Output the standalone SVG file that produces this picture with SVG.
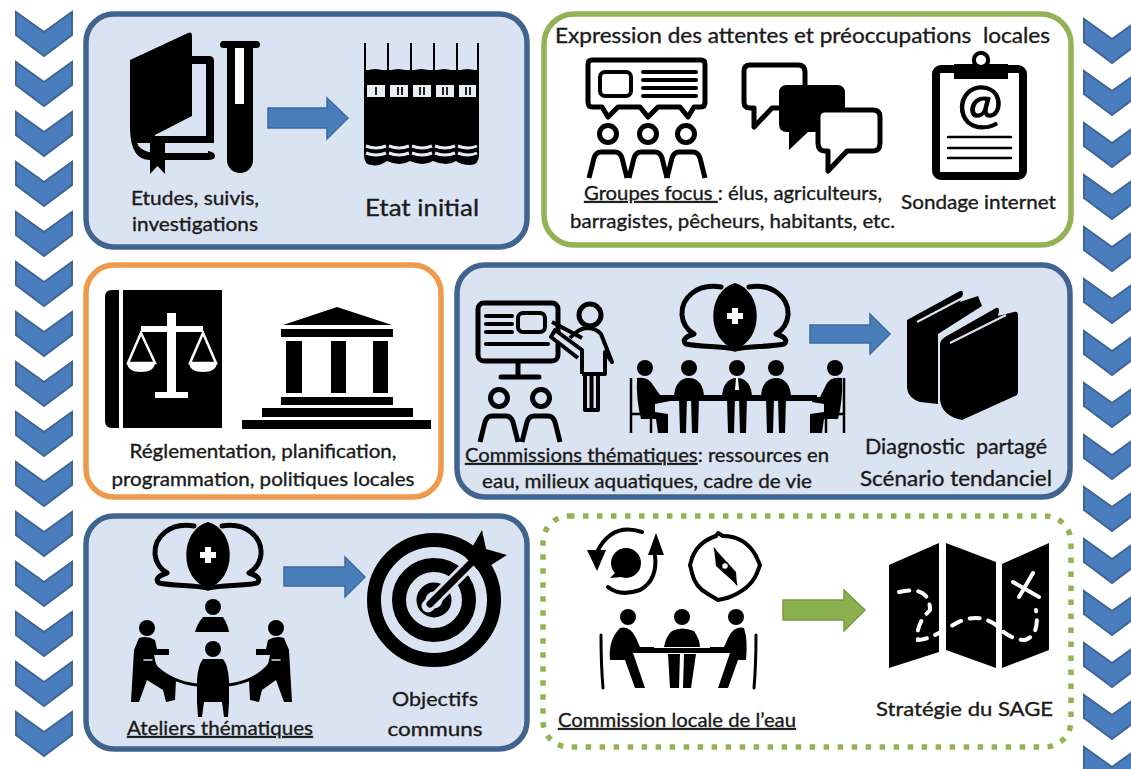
<svg xmlns="http://www.w3.org/2000/svg" xmlns:xlink="http://www.w3.org/1999/xlink" width="1131" height="769" viewBox="0 0 1131 769">
<style>
text{font-family:"Lato","Open Sans","Liberation Sans",sans-serif;fill:#1a1a1a;stroke:#1a1a1a;stroke-width:.35px;font-size:19px;white-space:pre}
.m{text-anchor:middle}
.u{text-decoration:underline}
.box{stroke-width:5.5}
.blue{fill:#dae3f1;stroke:#41648f}
.green{fill:#fff;stroke:#93b255}
.orange{fill:#fff;stroke:#ee9a4c}
.dots{fill:#fff;stroke:#93b255;stroke-width:5.5;stroke-dasharray:5.500 8.500}
.chev{fill:#4a7dbd;stroke:#3f6595;stroke-width:2;stroke-linejoin:miter}
.arr{fill:#4a7ebb;stroke:#3b6a9e;stroke-width:1.5}
.arrg{fill:#8cb04f;stroke:#799a42;stroke-width:1.5}
.k{fill:#000}
.o{fill:none;stroke:#000;stroke-width:5;stroke-linejoin:round;stroke-linecap:round}
.w{fill:#fff}
.bg{fill:#dae3f1}
</style>
<defs>
<path id="chev" class="chev" d="M0,0 L28,20 L56,0 L56,23 L28,44 L0,23 Z"/>
<g id="collab">
<path class="k" d="M0,-33 C-29,-25 -29,25 0,33 C29,25 29,-25 0,-33 Z"/>
<path class="w" d="M-3,-8 H3 V-3 H8 V3 H3 V8 H-3 V3 H-8 V-3 H-3 Z"/>
<path class="o" d="M-14,-29 C-38,-33 -54,-18 -53,-1 C-52,10 -46,15 -41,18 C-48,20 -54,24 -49,28 C-35,31 -15,30 0,33"/>
<path class="o" d="M14,-29 C38,-33 54,-18 53,-1 C52,10 46,15 41,18 C48,20 54,24 49,28 C35,31 15,30 0,33"/>
</g>
<g id="front">
<circle class="k" cx="0" cy="-27" r="8"/>
<path class="k" d="M-15,3 C-15,-10 -9,-17 0,-17 C9,-17 15,-10 15,3 Z"/>
<path class="k" d="M-10,3 H-2 L-3,38 H-9 Z M2,3 H10 L9,38 H3 Z"/>
</g>
<g id="bubblehead">
<circle class="o" cx="0" cy="0" r="8.5"/>
<path class="o" d="M-19,44 L-14,24 Q-12,18 -7,18 H7 Q12,18 14,24 L19,44" style="stroke-linecap:butt"/>
</g>
</defs>

<g id="chevrons-left">
<use href="#chev" x="16" y="12"/><use href="#chev" x="16" y="62"/><use href="#chev" x="16" y="112"/><use href="#chev" x="16" y="162"/><use href="#chev" x="16" y="212"/><use href="#chev" x="16" y="262"/><use href="#chev" x="16" y="312"/><use href="#chev" x="16" y="362"/><use href="#chev" x="16" y="412"/><use href="#chev" x="16" y="462"/><use href="#chev" x="16" y="512"/><use href="#chev" x="16" y="562"/><use href="#chev" x="16" y="612"/><use href="#chev" x="16" y="662"/><use href="#chev" x="16" y="712"/>
</g>
<g id="chevrons-right">
<use href="#chev" x="1084" y="19"/><use href="#chev" x="1084" y="71"/><use href="#chev" x="1084" y="123"/><use href="#chev" x="1084" y="175"/><use href="#chev" x="1084" y="227"/><use href="#chev" x="1084" y="279"/><use href="#chev" x="1084" y="331"/><use href="#chev" x="1084" y="383"/><use href="#chev" x="1084" y="435"/><use href="#chev" x="1084" y="487"/><use href="#chev" x="1084" y="539"/><use href="#chev" x="1084" y="591"/><use href="#chev" x="1084" y="643"/><use href="#chev" x="1084" y="695"/><use href="#chev" x="1084" y="747"/>
</g>

<g id="etat-initial">
<rect class="box blue" x="86" y="14" width="441" height="233" rx="28"/>
<path class="k" d="M130,60 L188,33 Q192,31 192,36 V116 L155,135 V143 H150 Q133,140 130,125 Z"/>
<path class="k" d="M192,56 H209 Q214,56 214,61 V143 H198 V137 H206 V64 H192 Z"/>
<path class="k" d="M130,130 Q131,160 150,160 H208 Q215,160 215,156 Q215,152 208,151 V153 H152 Q139,150 137,143 H214 V136 H155 L130,125 Z"/>
<path class="k" d="M150,143 H165 V174 L157.500,166 L150,174 Z"/>
<rect class="k" x="220" y="41" width="40" height="7" rx="3.500"/>
<path class="k" d="M227,47 H253 V160 A13,13 0 0 1 227,160 Z"/>
<rect class="w" x="235" y="48" width="9" height="56"/>
<g id="books-row">
<path class="k" d="M364,72 V43 H366 V70 H387 V43 H389 V70 H410 V43 H412 V70 H433 V43 H435 V70 H456 V43 H458 V70 H477 V43 H479 V155 Q479,165 470,165 Q461,165 456,161 Q447,167 433,161 Q423,167 410,161 Q400,167 387,161 Q378,167 372,165 Q364,165 364,155 Z"/>
<path class="k" d="M364,72 Q375,66 387,72 Q398,66 410,72 Q421,66 433,72 Q444,66 456,72 Q467,66 479,72 V76 H364 Z"/>
<path d="M367,85 H385 V97 H367 Z M390,85 H408 V97 H390 Z M413,85 H431 V97 H413 Z M436,85 H454 V97 H436 Z M459,85 H476 V97 H459 Z" fill="#e9edf3"/>
<g fill="none" stroke="#e9edf3" stroke-width="3"><path d="M366,146 Q376,150 386,146 M389,146 Q399,150 409,146 M412,146 Q422,150 432,146 M435,146 Q445,150 455,146 M458,146 Q468,150 477,146"/><path d="M366,153 Q376,157 386,153 M389,153 Q399,157 409,153 M412,153 Q422,157 432,153 M435,153 Q445,157 455,153 M458,153 Q468,157 477,153"/></g>
<g stroke="#222" stroke-width="2"><path d="M376,87 V95 M398,87 V95 M402,87 V95 M420,87 V95 M424,87 V95 M443,87 V95 M447,87 V95 M466,87 V95 M470,87 V95"/></g>
</g>
<text class="m" x="195" y="205" textLength="128" lengthAdjust="spacingAndGlyphs">Etudes, suivis,</text>
<text class="m" x="195" y="231" textLength="126" lengthAdjust="spacingAndGlyphs">investigations</text>
<text class="m" x="422" y="216" style="font-size:24px" textLength="114" lengthAdjust="spacingAndGlyphs">Etat initial</text>
</g>

<g id="attentes">
<rect class="box green" x="544" y="14" width="527" height="231" rx="30"/>
<text x="555" y="43" style="font-size:21px" textLength="495" lengthAdjust="spacingAndGlyphs">Expression des attentes et préoccupations  locales</text>
<path class="o" d="M592,60 H701 Q705,60 705,64 V102 Q705,107 701,107 H694 L688,117 L680,107 H658 L648,117 L640,107 H618 L608,117 L602,107 H592 Q588,107 588,102 V64 Q588,60 592,60 Z"/>
<rect class="o" x="600" y="72" width="31" height="24" rx="5" style="stroke-width:4"/>
<path class="o" d="M643,72 H696 M643,80 H696 M643,88 H696 M643,96 H696" style="stroke-width:4"/>
<use href="#bubblehead" x="608" y="134"/><use href="#bubblehead" x="648" y="134"/><use href="#bubblehead" x="686" y="134"/>
<path class="o" d="M750,65 H798 Q805,65 805,72 V85 M780,108 L772,108 L754,127 V108 H750 Q744,108 744,102 V71 Q744,65 750,65" />
<path class="k" d="M787,85 H837 Q845,85 845,93 V124 Q845,132 837,132 H808 L789,150 V132 H787 Q779,132 779,124 V93 Q779,85 787,85 Z"/>
<path fill="#fff" stroke="#000" stroke-width="5" stroke-linejoin="round" d="M825,110 H873 Q880,110 880,117 V143 Q880,151 873,151 H847 L828,171 V151 H825 Q818,151 818,143 V117 Q818,110 825,110 Z"/>
<rect class="o" x="936" y="69" width="87" height="107" rx="5" style="stroke-width:8"/>
<circle class="o" cx="981" cy="60" r="7" style="stroke-width:4.500"/>
<rect class="k" x="954" y="64" width="54" height="15"/>
<circle class="w" cx="981" cy="60" r="5"/>
<text class="m" x="980" y="123" style="font-size:54px;fill:#000;stroke:#000;stroke-width:1px">@</text>
<path class="o" d="M948,137 H1011 M948,148 H1011 M948,158 H1011" style="stroke-width:2.500"/>
<text x="584" y="200" textLength="298" lengthAdjust="spacingAndGlyphs"><tspan class="u">Groupes focus </tspan>: élus, agriculteurs,</text>
<text x="570" y="228" textLength="325" lengthAdjust="spacingAndGlyphs">barragistes, pêcheurs, habitants, etc.</text>
<text x="901" y="209" textLength="155" lengthAdjust="spacingAndGlyphs">Sondage internet</text>
</g>

<g id="reglementation">
<rect class="box orange" x="86" y="265" width="355" height="232" rx="28"/>
<path class="k" d="M112,290 H119 V428 H112 Q105,428 105,421 V297 Q105,290 112,290 Z"/>
<rect class="k" x="123" y="290" width="99" height="138"/>
<rect class="w" x="167" y="313" width="9" height="85"/>
<rect class="w" x="155" y="392" width="33" height="6"/>
<rect class="w" x="141" y="326" width="62" height="6"/>
<path fill="none" stroke="#fff" stroke-width="2.500" d="M141,333 L128,363 H155 Z M203,333 L190,363 H216 Z"/>
<path class="w" d="M127,363 H155 Q154,372 141,372 Q128,372 127,363 Z M189,363 H217 Q216,372 203,372 Q190,372 189,363 Z"/>
<path class="k" d="M337,307 L392,325 H283 Z"/>
<rect class="k" x="281" y="329" width="112" height="8"/>
<rect class="k" x="286" y="341" width="16" height="52"/><rect class="k" x="331" y="341" width="15" height="52"/><rect class="k" x="373" y="341" width="15" height="52"/>
<rect class="k" x="281" y="397" width="112" height="8"/>
<rect class="k" x="262" y="408" width="151" height="9"/>
<rect class="k" x="242" y="420" width="189" height="9"/>
<text class="m" x="263" y="458" textLength="267" lengthAdjust="spacingAndGlyphs">Réglementation, planification,</text>
<text class="m" x="263" y="486" textLength="303" lengthAdjust="spacingAndGlyphs">programmation, politiques locales</text>
</g>

<g id="diagnostic">
<rect class="box blue" x="457" y="265" width="613" height="232" rx="28"/>
<rect class="o" x="478" y="303" width="80" height="58" rx="6"/>
<path class="o" d="M486,316 H512 M486,324 H512 M486,332 H512 M486,344 H548" style="stroke-width:4"/>
<rect class="o" x="518" y="313" width="27" height="19" rx="5" style="stroke-width:4"/>
<path class="o" d="M518,362 V377 M501,377 H539"/>
<use href="#bubblehead" x="499" y="398"/><use href="#bubblehead" x="541" y="398"/>
<circle class="o" cx="590" cy="315" r="11"/>
<path fill="#dae3f1" stroke="#000" stroke-width="4" stroke-linejoin="round" d="M582,374 V350 L555,330 L551,337 L578,358 M582,338 L552,322 M582,374 H605 V352 L612,362 L601,334 Q596,328 586,328 Q578,329 570,338"/>
<path class="o" d="M585,374 V410 H598 V374 M591.500,374 V410" style="stroke-width:4"/>
<use href="#collab" x="735" y="316"/>
<rect class="k" x="668" y="395" width="149" height="6"/>
<use href="#front" x="689" y="395"/><use href="#front" x="737" y="395"/><use href="#front" x="776" y="395"/>
<path class="w" d="M736,378 H738 L739,390 H735 Z"/>
<circle class="k" cx="645" cy="368" r="8"/>
<path class="k" d="M637,378 Q648,376 653,385 L660,395 H670 V401 L655,404 V412 L668,414 L668,433 H658 L656,419 H641 Q636,400 637,378 Z"/>
<circle class="k" cx="835" cy="368" r="8"/>
<path class="k" d="M842,378 Q830,376 826,385 L820,397 H812 V402 L824,404 V412 L810,414 V433 H822 L824,419 H838 Q843,400 842,378 Z"/>
<path class="o" d="M631,378 V433 M631,414 H651 V433" style="stroke-width:2.500;stroke-linecap:butt"/>
<path class="o" d="M844,378 V433 M844,414 H826 V433" style="stroke-width:2.500;stroke-linecap:butt"/>
<path class="k" d="M907,320 L960,291 Q963,290 963,294 L960,302 L978,296 L982,306 L938,334 V404 L920,402 Q908,398 907,388 Z"/>
<path fill="none" stroke="#dae3f1" stroke-width="2" d="M917,322 L972,293"/>
<path class="k" stroke="#dae3f1" stroke-width="3.500" stroke-linejoin="round" style="paint-order:stroke" d="M940,345 Q940,340 945,337 L996,308 Q999,307 999,311 L998,316 L1014,312 Q1018,311 1018,315 V392 Q1018,395 1015,396 L962,420 Q942,416 940,400 Z"/>
<path fill="none" stroke="#dae3f1" stroke-width="2" d="M950,343 L1006,315"/>
<text x="465" y="462" textLength="364" lengthAdjust="spacingAndGlyphs"><tspan class="u">Commissions thématiques</tspan>: ressources en</text>
<text class="m" x="647" y="488" textLength="330" lengthAdjust="spacingAndGlyphs">eau, milieux aquatiques, cadre de vie</text>
<text class="m" x="956" y="454" style="font-size:21px" textLength="182" lengthAdjust="spacingAndGlyphs">Diagnostic  partagé</text>
<text class="m" x="956" y="486" style="font-size:21px" textLength="192" lengthAdjust="spacingAndGlyphs">Scénario tendanciel</text>
</g>

<g id="ateliers">
<rect class="box blue" x="86" y="516" width="441" height="233" rx="28"/>
<use href="#collab" x="208" y="555"/>
<circle class="k" cx="213" cy="607" r="8"/>
<path class="k" d="M203,617 H223 Q228,625 229,632 H195 Q197,624 203,617 Z"/>
<circle class="k" cx="147" cy="628" r="8"/>
<path class="k" d="M139,638 Q147,635 155,640 L157,649 H169 V655 H154 Q156,670 165,675 L176,680 L175,700 L166,702 L163,690 L147,680 L139,702 L131,702 L134,650 Z"/>
<circle class="k" cx="276" cy="628" r="8"/>
<path class="k" d="M284,638 Q276,635 268,640 L266,649 H256 V655 H270 Q268,670 260,675 L249,680 L250,700 L259,702 L262,690 L276,680 L284,702 L292,702 L289,650 Z"/>
<path class="o" d="M153,664 Q170,682 197,685 M228,685 Q255,682 270,664" style="stroke-width:3"/>
<circle class="k" cx="213" cy="649" r="8"/>
<path class="k" d="M203,659 H223 Q228,665 229,680 V702 L228,717 H224 L222,702 H204 L202,717 H198 L197,702 V680 Q198,665 203,659 Z"/>
<path class="o" d="M144,660 H152 M272,660 H280" style="stroke:#dae3f1;stroke-width:1.500"/>
<g fill="none" stroke-linecap="round">
<circle cx="434" cy="600" r="60" stroke="#000" stroke-width="14"/>
<circle cx="434" cy="600" r="35" stroke="#000" stroke-width="14"/>
<circle cx="434" cy="600" r="13" stroke="#000" stroke-width="9"/>
<path d="M428,606 L478,556" stroke="#dae3f1" stroke-width="13"/>
<path d="M430,604 L480,554" stroke="#000" stroke-width="7"/>
</g>
<path class="k" d="M466,558 L482,530 L486,549 L507,555 L480,572 Z"/>
<text class="m" x="435" y="706" style="font-size:20px" textLength="86" lengthAdjust="spacingAndGlyphs">Objectifs</text>
<text class="m" x="435" y="736" style="font-size:20px" textLength="95" lengthAdjust="spacingAndGlyphs">communs</text>
<text x="127" y="735" class="u" textLength="186" lengthAdjust="spacingAndGlyphs">Ateliers thématiques</text>
</g>

<g id="strategie">
<rect class="dots" x="543" y="516" width="528" height="231" rx="26"/>
<circle class="k" cx="626" cy="563" r="15"/>
<path class="k" d="M616,572 L610,578 L622,577 Z"/>
<path class="o" d="M642,532 Q612,522 597,552 M655,555 Q658,580 640,590 Q620,597 608,587" style="stroke-width:4"/>
<path class="k" d="M587,550 H606 L597,571 Z M648,555 H664 L656,533 Z"/>
<g class="o" style="stroke-width:4" fill="none">
<path d="M723,536 Q745,536 756,556 M757,573 Q750,590 727,598 M708,594 Q695,587 692,573 M692,558 Q698,542 716,536"/>
<path d="M756,556 L760,565 L757,573 M723,536 L718,533 L716,536 M727,598 L718,600 L708,594 M692,573 L690,565 L692,558"/>
</g>
<path class="k" d="M714,548 L736,572 L737,585 L716,566 Z"/>
<path fill="none" stroke="#000" stroke-width="1.500" d="M714,548 L737,585"/>
<circle cx="725" cy="566" r="3.500" fill="#fff" stroke="#000" stroke-width="1.500"/>
<circle class="k" cx="628" cy="617" r="8"/>
<circle class="k" cx="682" cy="617" r="8"/>
<circle class="k" cx="736" cy="617" r="8"/>
<path class="k" d="M620,628 Q630,625 636,638 L640,647 H654 V650 L633,653 L645,688 L635,688 L625,660 H610 Q608,640 620,628 Z"/>
<path class="k" d="M744,628 Q734,625 728,638 L724,647 H710 V650 L730,653 L718,688 L728,688 L738,660 H746 Q748,640 744,628 Z"/>
<path class="k" d="M672,631 Q682,626 694,631 Q700,640 700,647 H664 Q666,636 672,631 Z"/>
<path class="k" d="M668,654 H680 L679,688 H670 Z M684,654 H696 L691,688 H683 Z"/>
<rect class="k" x="628" y="648" width="103" height="5" />
<path class="o" d="M601,635 Q601,665 603,688 M756,635 Q756,665 754,688" style="stroke-width:3"/>
<path class="k" d="M889,565 L939,543 V652 L889,668 Z"/>
<path class="k" d="M946,543 L996,562 V668 L946,650 Z"/>
<path class="k" d="M1002,564 L1049,543 V650 L1002,668 Z"/>
<path fill="none" stroke="#fff" stroke-width="4" stroke-linecap="round" stroke-dasharray="10 9" d="M899,592 Q930,585 930,610 Q915,625 918,640 Q928,640 950,627 Q975,610 996,625 Q1010,640 1025,640 Q1040,635 1036,610"/>
<path fill="none" stroke="#fff" stroke-width="4" stroke-linecap="round" d="M1013,582 L1039,597 M1033,573 L1019,597"/>
<text x="876" y="716" style="font-size:20px" textLength="177" lengthAdjust="spacingAndGlyphs">Stratégie du SAGE</text>
<text x="558" y="727" class="u" textLength="238" lengthAdjust="spacingAndGlyphs">Commission locale de l’eau</text>
</g>

<g id="connectors">
<path class="arr" d="M268,108 H327 V98 L348,118 L327,139 V128 H268 Z"/>
<path class="arr" d="M810,325 H870 V314 L890,334 L870,354 V343 H810 Z"/>
<path class="arr" d="M284,567 H345 V557 L365,577 L345,597 V586 H284 Z"/>
<path class="arrg" d="M783,600 H844 V590 L865,610 L844,631 V620 H783 Z"/>
</g>
</svg>
